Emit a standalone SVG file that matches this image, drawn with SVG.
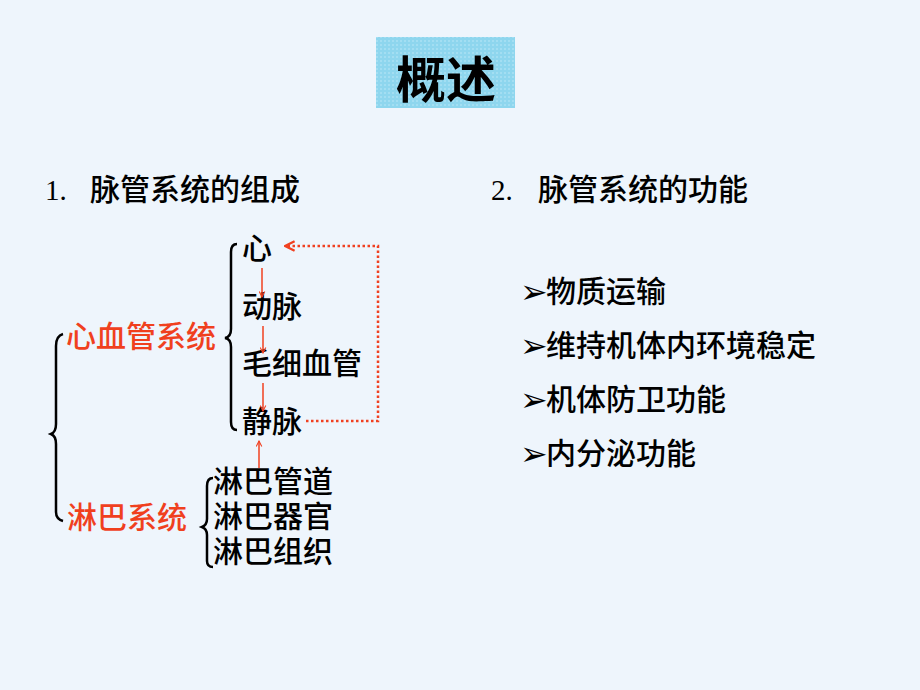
<svg xmlns="http://www.w3.org/2000/svg" width="920" height="690" viewBox="0 0 920 690">
<defs>
<pattern id="dots" width="4" height="4" patternUnits="userSpaceOnUse">
<rect width="4" height="4" fill="#8ED6EE"/>
<circle cx="1" cy="1" r="0.7" fill="#C8EEFA"/>
</pattern>
<marker id="ah" viewBox="0 0 10 10" refX="9" refY="5" markerWidth="7" markerHeight="7" orient="auto" markerUnits="userSpaceOnUse">
<path d="M1,1 L9,5 L1,9" fill="none" stroke="#F04020" stroke-width="1.5"/>
</marker>
<marker id="ah2" viewBox="0 0 10 10" refX="9" refY="5" markerWidth="12" markerHeight="12" orient="auto" markerUnits="userSpaceOnUse">
<path d="M1,1 L9,5 L1,9" fill="none" stroke="#F04020" stroke-width="2"/>
</marker>
</defs>
<style>
.t{font-family:"Noto Sans CJK SC","Noto Sans",sans-serif;font-size:30px;font-weight:500;fill:#000}
.r{fill:#F0401E}
.n{font-family:"Liberation Serif",serif;font-size:29px;fill:#000}
.b{font-family:"DejaVu Sans",sans-serif;font-size:33px;fill:#000}
.br{fill:none;stroke:#000;stroke-width:2.5}
.a{stroke:#F04020;stroke-width:1.5;fill:none}
</style>
<rect width="920" height="690" fill="#EEF5FC"/>
<g id="title">
<rect x="376" y="37" width="139" height="71" fill="url(#dots)"/>
<text x="446" y="98" text-anchor="middle" style="font-family:'Noto Sans CJK SC',sans-serif;font-size:50px;font-weight:bold;fill:#000">概述</text>
</g>
<g id="heading1">
<text x="45" y="200" class="n">1.</text>
<text x="90" y="200" class="t">脉管系统的组成</text>
</g>
<g id="heading2">
<text x="491" y="200" class="n">2.</text>
<text x="538" y="200" class="t">脉管系统的功能</text>
</g>
<g id="heart"><text x="242" y="259" class="t">心</text></g>
<g id="artery"><text x="242" y="317" class="t">动脉</text></g>
<g id="capillary"><text x="242" y="374" class="t">毛细血管</text></g>
<g id="vein"><text x="242" y="432" class="t">静脉</text></g>
<g id="cardio"><text x="66" y="347" class="t r">心血管系统</text></g>
<g id="lymph"><text x="67" y="528" class="t r">淋巴系统</text></g>
<g id="lymph-duct"><text x="213" y="492" class="t">淋巴管道</text></g>
<g id="lymph-organ"><text x="213" y="527" class="t">淋巴器官</text></g>
<g id="lymph-tissue"><text x="213" y="562" class="t">淋巴组织</text></g>
<g id="braces">
<path class="br" d="M237,244 Q231,244 231,252 L231,329 Q231,337 225,338 Q231,339 231,347 L231,422 Q231,430 237,430"/>
<path class="br" d="M63,334 Q56,336 56,346 L56,424 Q56,432 51,434 Q56,436 56,444 L56,512 Q56,519 63,521"/>
<path class="br" d="M213,478 Q207,478 207,486 L207,519 Q207,525 202,527 Q207,529 207,535 L207,561 Q207,567 213,567"/>
</g>
<g id="functions">
<text x="520" y="303" class="b">➢</text><text x="546" y="302" class="t">物质运输</text>
<text x="520" y="357" class="b">➢</text><text x="546" y="356" class="t">维持机体内环境稳定</text>
<text x="520" y="411" class="b">➢</text><text x="546" y="410" class="t">机体防卫功能</text>
<text x="520" y="465" class="b">➢</text><text x="546" y="464" class="t">内分泌功能</text>
</g>
<g id="connectors">
<line class="a" x1="262" y1="268" x2="262" y2="297" marker-end="url(#ah)"/>
<line class="a" x1="263" y1="326" x2="263" y2="353" marker-end="url(#ah)"/>
<line class="a" x1="263" y1="383" x2="263" y2="411" marker-end="url(#ah)"/>
<line class="a" x1="259" y1="468" x2="259" y2="441" marker-end="url(#ah)"/>
<path d="M306,421 L378,421 L378,246 L285,246" fill="none" stroke="#F04020" stroke-width="2.5" stroke-dasharray="2.5 2.5" marker-end="url(#ah2)"/>
</g>
</svg>
